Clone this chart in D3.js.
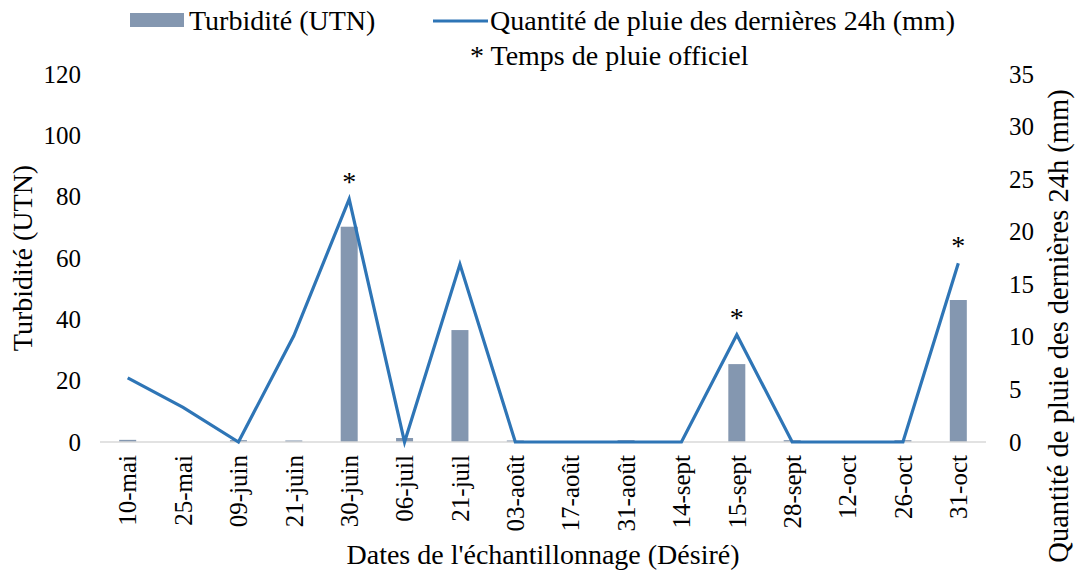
<!DOCTYPE html>
<html>
<head>
<meta charset="utf-8">
<script src="https://cdn.jsdelivr.net/npm/d3@7"></script>
<style>
  body { margin: 0; background: #fff; }
</style>
</head>
<body>
<div id="chart"></div>
<script>
const dates = ['10-mai', '25-mai', '09-juin', '21-juin', '30-juin', '06-juil', '21-juil', '03-août',
               '17-août', '31-août', '14-sept', '15-sept', '28-sept', '12-oct', '26-oct', '31-oct'];
const turbidite = [0.7, 0, 0.6, 0.5, 70.2, 1.3, 36.5, 0.5, 0, 0.6, 0, 25.4, 0.6, 0, 0.6, 46.3];
const pluie = [6.1, 3.3, 0, 10.1, 23.1, 0, 16.9, 0, 0, 0, 0, 10.2, 0, 0, 0, 17];
const officiel = ['30-juin', '15-sept', '31-oct'];
const leftTicks = [0, 20, 40, 60, 80, 100, 120];
const rightTicks = [0, 5, 10, 15, 20, 25, 30, 35];

const width = 1076, height = 575;
const plotLeft = 100, plotRight = 986, plotTop = 74, plotBottom = 442;
const serif = "'Liberation Serif', 'Times New Roman', Times, 'DejaVu Serif', serif";

const svg = d3.select('#chart').append('svg')
  .attr('width', width)
  .attr('height', height)
  .style('font-family', serif);

const x = d3.scaleBand().domain(dates).range([plotLeft, plotRight]);
const yL = d3.scaleLinear().domain([0, 120]).range([plotBottom, plotTop]);
const yR = d3.scaleLinear().domain([0, 35]).range([plotBottom, plotTop]);

// bars
svg.selectAll('rect.bar')
  .data(dates)
  .enter()
  .append('rect')
  .attr('class', 'bar')
  .attr('x', d => x(d) + x.bandwidth() / 2 - 8.5)
  .attr('width', 17)
  .attr('y', (d, i) => yL(turbidite[i]))
  .attr('height', (d, i) => plotBottom - yL(turbidite[i]))
  .attr('fill', '#8497B0');

// baseline
svg.append('line')
  .attr('x1', plotLeft).attr('x2', plotRight)
  .attr('y1', plotBottom).attr('y2', plotBottom)
  .attr('stroke', '#d9d9d9')
  .attr('stroke-width', 1.5);

// rain line
const line = d3.line()
  .x((d, i) => x(dates[i]) + x.bandwidth() / 2)
  .y(d => yR(d));

svg.append('path')
  .datum(pluie)
  .attr('d', line)
  .attr('fill', 'none')
  .attr('stroke', '#2E75B6')
  .attr('stroke-width', 3.2)
  .attr('stroke-linejoin', 'miter');

// asterisks
svg.selectAll('text.star')
  .data(officiel)
  .enter()
  .append('text')
  .attr('class', 'star')
  .attr('x', d => x(d) + x.bandwidth() / 2)
  .attr('y', d => yR(pluie[dates.indexOf(d)]) - 8)
  .attr('text-anchor', 'middle')
  .style('font-size', '28px')
  .text('*');

// left axis
const axisL = d3.axisLeft(yL).tickValues(leftTicks).tickSize(0).tickPadding(0);
const gL = svg.append('g').attr('transform', 'translate(81,0)').call(axisL);
gL.select('.domain').remove();
gL.selectAll('text').style('font-size', '25px').style('font-family', serif).attr('dy', '0.32em');

// right axis
const axisR = d3.axisRight(yR).tickValues(rightTicks).tickSize(0).tickPadding(0);
const gR = svg.append('g').attr('transform', 'translate(1009,0)').call(axisR);
gR.select('.domain').remove();
gR.selectAll('text').style('font-size', '25px').style('font-family', serif).attr('dy', '0.32em');

// x axis
const axisX = d3.axisBottom(x).tickSize(0).tickPadding(0);
const gX = svg.append('g').attr('transform', `translate(0,${plotBottom})`).call(axisX);
gX.select('.domain').remove();
gX.selectAll('text')
  .style('font-size', '25px')
  .style('font-family', serif)
  .attr('text-anchor', 'end')
  .attr('transform', 'rotate(-90)')
  .attr('x', -13)
  .attr('y', 0)
  .attr('dy', '0.35em');

// axis titles
svg.append('text')
  .attr('transform', 'translate(32,258) rotate(-90)')
  .attr('text-anchor', 'middle')
  .style('font-size', '28px')
  .text('Turbidité (UTN)');

svg.append('text')
  .attr('transform', 'translate(1068,326) rotate(-90)')
  .attr('text-anchor', 'middle')
  .style('font-size', '28.5px')
  .text('Quantité de pluie des dernières 24h (mm)');

svg.append('text')
  .attr('x', 543).attr('y', 564)
  .attr('text-anchor', 'middle')
  .style('font-size', '28px')
  .text("Dates de l'échantillonnage (Désiré)");

// legend
svg.append('rect')
  .attr('x', 130).attr('y', 13)
  .attr('width', 54).attr('height', 14)
  .attr('fill', '#8497B0');
svg.append('text')
  .attr('x', 189).attr('y', 30)
  .style('font-size', '28px')
  .text('Turbidité (UTN)');
svg.append('line')
  .attr('x1', 433).attr('x2', 488)
  .attr('y1', 21).attr('y2', 21)
  .attr('stroke', '#2E75B6')
  .attr('stroke-width', 3.2);
svg.append('text')
  .attr('x', 490).attr('y', 30)
  .style('font-size', '28px')
  .text('Quantité de pluie des dernières 24h (mm)');
svg.append('text')
  .attr('x', 470).attr('y', 65)
  .style('font-size', '28px')
  .text('* Temps de pluie officiel');
</script>
</body>
</html>
